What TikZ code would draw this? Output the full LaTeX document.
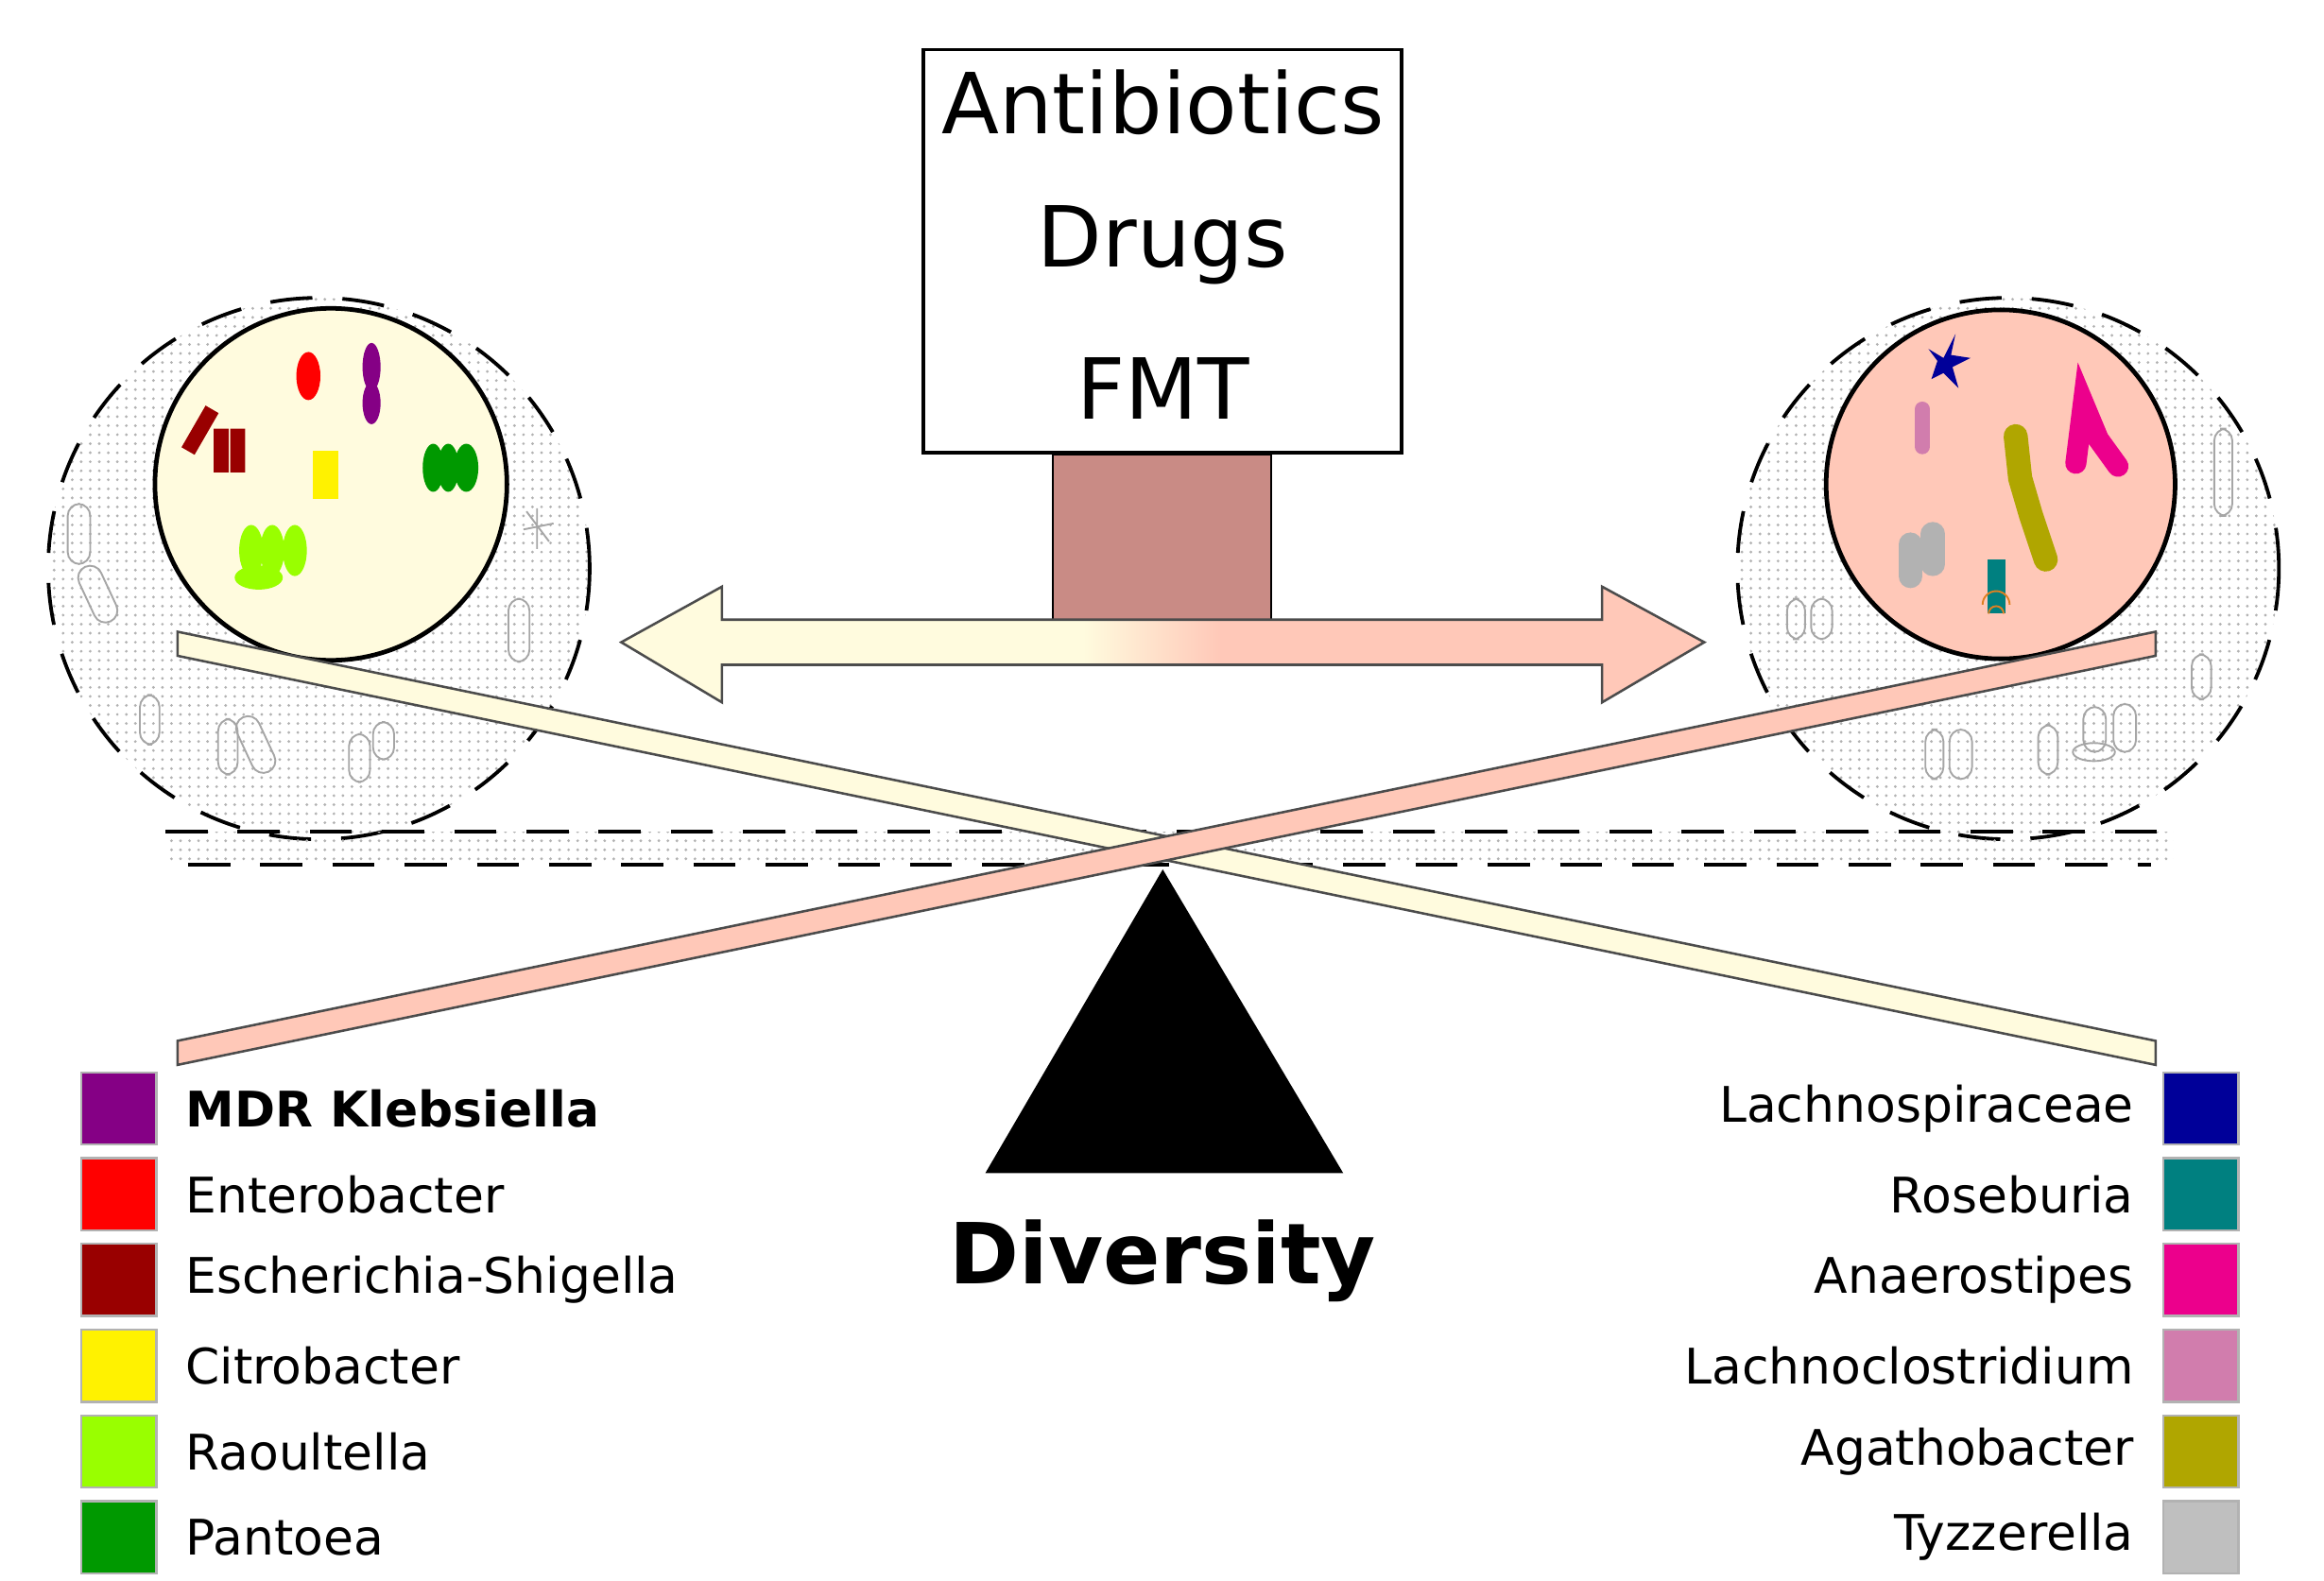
\documentclass[tikz,border=0pt]{standalone}
\usepackage{fontspec}
\setmainfont{DejaVu Sans}
\usetikzlibrary{patterns,positioning,calc}
\definecolor{cream}{RGB}{255,251,222}
\definecolor{salmon}{RGB}{255,200,184}
\definecolor{stem}{RGB}{201,139,133}
\tikzset{every picture/.style={line width=0.75pt}}
\tikzset{
  ring/.style={draw, dash pattern=on 14pt off 10pt, line width=1.2pt, pattern=dots, pattern color=gray!60},
  ghost/.style={draw=gray!70, line width=0.6pt, rounded corners=4pt},
  swatch/.style={draw=gray!60, minimum width=25pt, minimum height=24pt, inner sep=0pt},
  lab/.style={font=\fontsize{16.3}{19}\selectfont, inner sep=1pt},
  bar/.style={draw=black!70, line width=0.8pt},
}
\begin{document}
\begin{tikzpicture}[x=0.5pt,y=0.5pt,yscale=-1,xscale=1]
\useasboundingbox (0,0) rectangle (1545,1051);

%Shape: dotted rings
\path[ring] (212,378) circle (180);
\path[ring] (1335,378) circle (180);
\fill[pattern=dots, pattern color=gray!60] (110,553) rectangle (1445,575);
\draw[dash pattern=on 14pt off 10pt, line width=1.2pt] (110,553) -- (1445,553) (125,575) -- (1430,575);
%Shape: inner circles
\draw[fill=cream, line width=1.5pt] (220,322) circle (117);
\draw[fill=salmon, line width=1.5pt] (1330,322) circle (116);

%Shape: grey cells, left
\draw[ghost] (45,335) rectangle (60,375);
\draw[ghost, rotate around={-25:(65,395)}] (57,375) rectangle (73,415);
\draw[ghost] (93,462) rectangle (106,495);
\draw[ghost] (145,478) rectangle (158,515);
\draw[ghost, rotate around={-25:(170,495)}] (162,475) rectangle (178,515);
\draw[ghost] (232,488) rectangle (246,520);
\draw[ghost] (248,480) rectangle (262,505);
\draw[ghost] (338,398) rectangle (352,440);
\draw[ghost, rounded corners=0] (350,340) -- (365,360) (357,338) -- (357,365) (348,352) -- (368,348);
%Shape: grey cells, right
\draw[ghost] (1472,285) rectangle (1484,343);
\draw[ghost] (1188,398) rectangle (1200,425);
\draw[ghost] (1204,398) rectangle (1218,425);
\draw[ghost] (1457,435) rectangle (1470,465);
\draw[ghost] (1280,485) rectangle (1292,518);
\draw[ghost] (1296,485) rectangle (1311,518);
\draw[ghost] (1355,482) rectangle (1368,515);
\draw[ghost] (1385,470) rectangle (1400,500);
\draw[ghost] (1405,468) rectangle (1420,500);
\draw[ghost] (1392,500) ellipse (14 and 6);

%Shape: coloured cells, left
\fill[red] (205,250) ellipse (8 and 16);
\fill[violet!70!magenta!80!black] (247,244) ellipse (6 and 16) (247,268) ellipse (6 and 14);
\fill[red!60!black, rotate around={30:(133,286)}] (128,270) rectangle (138,302);
\fill[red!60!black] (142,285) rectangle (152,314) (153,285) rectangle (163,314);
\fill[yellow] (208,300) rectangle (225,332);
\fill[green!60!black] (288,311) ellipse (7 and 16) (298,311) ellipse (7 and 16) (310,311) ellipse (8 and 16);
\fill[lime!80!green] (167,366) ellipse (8 and 17) (181,366) ellipse (8 and 17) (196,366) ellipse (8 and 17) (172,384) ellipse (16 and 8);
%Shape: coloured cells, right
\fill[blue!60!black] (1292,238) -- (1300,222) -- (1297,236) -- (1310,238) -- (1298,244) -- (1302,258) -- (1292,248) -- (1284,252) -- (1288,240) -- (1282,232) -- cycle;
\draw[line width=5pt, line cap=round, magenta!40!violet!60] (1278,272) -- (1278,297);
\draw[line width=8pt, line cap=round, olive!70!yellow] (1340,290) -- (1343,318) -- (1350,342) -- (1360,372);
\draw[line width=7pt, line cap=round, magenta] (1380,308) -- (1385,268) -- (1395,292) -- (1408,310);
\draw[line width=8pt, line cap=round, gray!60] (1270,362) -- (1270,383) (1285,355) -- (1285,375);
\draw[line width=6pt, teal] (1327,372) -- (1327,408);
\draw[orange!50!brown, line width=0.6pt] (1318,402) arc (180:360:9) (1322,408) arc (180:360:5);

%Shape: box stem and double arrow
\fill[stem, draw=black] (700,302) rectangle (845,412);
\path[fill=cream] (413,427) -- (480,390) -- (480,412) -- (1065,412) -- (1065,390) -- (1133,427) -- (1065,467) -- (1065,442) -- (480,442) -- (480,467) -- cycle;
\begin{scope}
  \clip (413,427) -- (480,390) -- (480,412) -- (1065,412) -- (1065,390) -- (1133,427) -- (1065,467) -- (1065,442) -- (480,442) -- (480,467) -- cycle;
  \shade[left color=cream, right color=salmon] (720,380) rectangle (812,480);
  \fill[salmon] (811,380) rectangle (1140,480);
\end{scope}
\draw[black!70, line width=0.8pt] (413,427) -- (480,390) -- (480,412) -- (1065,412) -- (1065,390) -- (1133,427) -- (1065,467) -- (1065,442) -- (480,442) -- (480,467) -- cycle;

% Text Node
\node[draw, line width=1.2pt, fill=white, minimum width=159pt, minimum height=134pt, inner sep=0pt] (box) at (773,167) {};
\node[font=\fontsize{28}{32}\selectfont] (antib) at (773,68) {Antibiotics};
\node[font=\fontsize{28}{32}\selectfont] (drugs) at (773,163) {Drugs};
\node[font=\fontsize{28}{32}\selectfont] (fmt) at (773,258) {FMT};

%Shape: seesaw bars
\coordinate (lt) at (118,428);
\coordinate (rb) at (1433,700);
\coordinate (lb) at (118,700);
\coordinate (rt) at (1433,428);
\draw[bar, fill=cream] ($(lt)+(0,-8)$) -- ($(rb)+(0,-8)$) -- ($(rb)+(0,8)$) -- ($(lt)+(0,8)$) -- cycle;
\draw[bar, fill=salmon] ($(lb)+(0,-8)$) -- ($(rt)+(0,-8)$) -- ($(rt)+(0,8)$) -- ($(lb)+(0,8)$) -- cycle;
%Shape: pivot
\fill (773,578) -- (893,780) -- (655,780) -- cycle;
\node[font=\bfseries\fontsize{28}{32}\selectfont] (div) at (773,838) {Diversity};

% Legend
\foreach \name/\col [count=\i from 0] in {MDR Klebsiella/{violet!70!magenta!80!black}, Enterobacter/red, Escherichia-Shigella/{red!60!black}, Citrobacter/yellow, Raoultella/{lime!80!green}, Pantoea/{green!60!black}}{
  \node[swatch, fill=\col] (ls\i) at (79,{737+57*\i}) {};
  \node[lab, anchor=west, right=8pt of ls\i] (ll\i) {\ifnum\i=0 \bfseries\fi\name};
}
\foreach \name/\col [count=\i from 0] in {Lachnospiraceae/{blue!60!black}, Roseburia/teal, Anaerostipes/magenta, Lachnoclostridium/{magenta!40!violet!60}, Agathobacter/{olive!70!yellow}, Tyzzerella/{gray!50}}{
  \node[swatch, fill=\col] (rs\i) at (1463,{737+57*\i}) {};
  \node[lab, anchor=east, left=8pt of rs\i] (rl\i) {\name};
}
\end{tikzpicture}
\end{document}
